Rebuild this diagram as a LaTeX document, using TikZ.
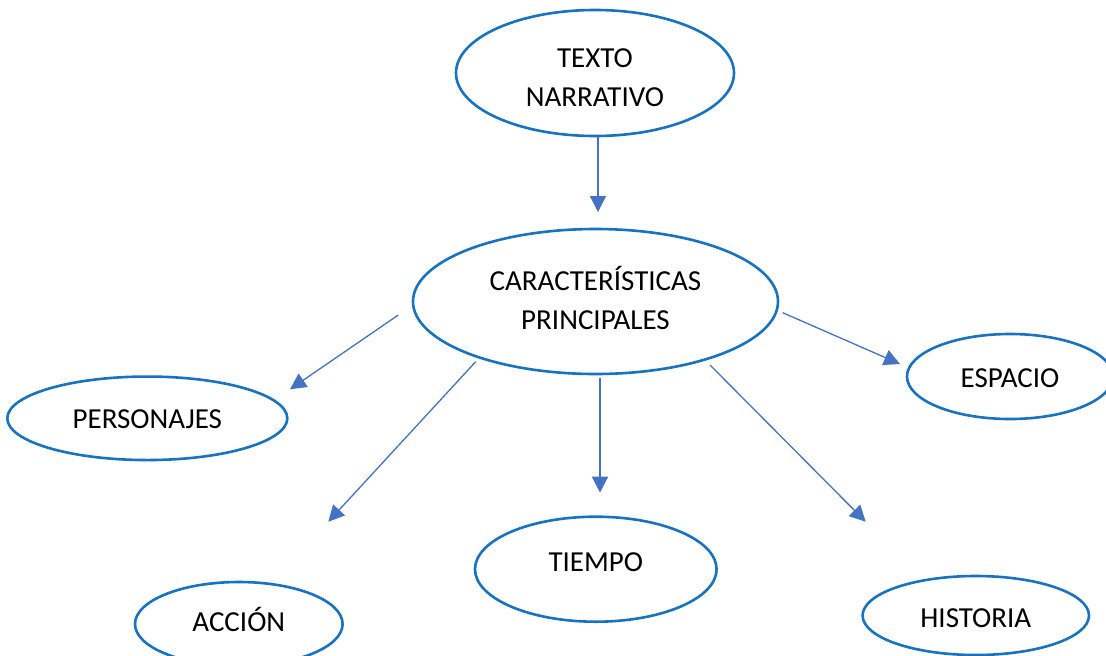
\documentclass[tikz,border=0pt]{standalone}
\usepackage{fontspec}
\setmainfont{Carlito}
\usetikzlibrary{shapes.geometric,arrows.meta}
\definecolor{ellblue}{HTML}{1872C2}
\definecolor{arrblue}{HTML}{4472C4}
\begin{document}
\begin{tikzpicture}[x=1pt,y=-1pt,
  oval/.style={ellipse, draw=ellblue, line width=2.6pt, inner sep=0pt,
    font=\fontsize{29}{39}\selectfont, align=center, text=black},
  one/.style={text height=18.4pt, text depth=0pt},
  conn/.style={draw=arrblue, line width=1.3pt,
    -{Triangle[length=16pt,width=16pt]}}]
\clip (0,0) rectangle (1106,656);
\fill[white] (0,0) rectangle (1106,656);
% ellipses
\node[oval, minimum width=278pt, minimum height=126pt] (tn) at (595,73) {\rule{0pt}{28.7pt}TEXTO\\NARRATIVO};
\node[oval, minimum width=365pt, minimum height=145pt] (cp) at (595.5,301.5) {CARACTERÍSTICAS\\PRINCIPALES\rule[-8pt]{0pt}{8pt}};
\node[oval, one, text height=21.4pt, minimum width=206pt, minimum height=85pt] (esp) at (1010,376.5) {ESPACIO};
\node[oval, one, text height=19.8pt, minimum width=280pt, minimum height=83.5pt] (per) at (147.3,418.3) {PERSONAJES};
\node[oval, one, text depth=3pt, minimum width=207.6pt, minimum height=84pt] (acc) at (238.8,624) {ACCIÓN};
\node[oval, one, text depth=14.4pt, minimum width=241.6pt, minimum height=105pt] (tie) at (595.8,569.2) {TIEMPO};
\node[oval, one, text height=23.4pt, minimum width=226.4pt, minimum height=79pt] (his) at (975.8,615.5) {HISTORIA};
% connector end points
\coordinate (s1) at (598,137);   \coordinate (e1) at (598,212);
\coordinate (s2) at (398.3,315); \coordinate (e2) at (290,389.3);
\coordinate (s3) at (475.7,361.7); \coordinate (e3) at (328.3,521.7);
\coordinate (s4) at (600,378);   \coordinate (e4) at (600,492.7);
\coordinate (s5) at (710,365);   \coordinate (e5) at (865.7,521.7);
\coordinate (s6) at (782.7,312.7); \coordinate (e6) at (900,364);
\draw[conn] (s1) -- (e1);
\draw[conn] (s2) -- (e2);
\draw[conn] (s3) -- (e3);
\draw[conn] (s4) -- (e4);
\draw[conn] (s5) -- (e5);
\draw[conn] (s6) -- (e6);
\end{tikzpicture}
\end{document}
